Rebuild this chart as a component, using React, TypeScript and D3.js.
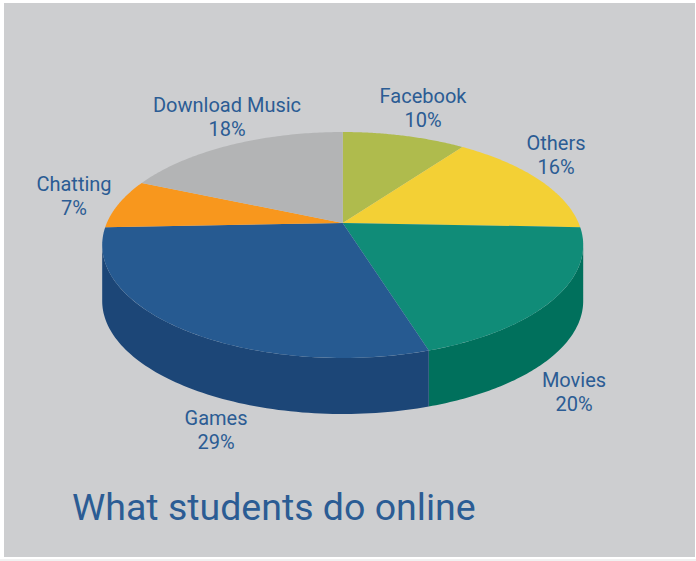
import React from "react";
import * as d3 from "d3";

const categories = ["Facebook", "Others", "Movies", "Games", "Chatting", "Download Music"];
const labelPercents = ["10%", "16%", "20%", "29%", "7%", "18%"];
const shares = [10, 15.6, 19.6, 29.2, 7.1, 18.5];
const topColors = ["#afbb4d", "#f3d035", "#108c78", "#265a91", "#f8971d", "#b3b4b5"];
const wallColors = ["none", "none", "#00705c", "#1c4677", "none", "none"];
const labelX = [423, 556, 574, 216, 74, 227];
const labelY = [103, 150, 387, 425, 191, 112];

const W = 696, H = 561;
const cx = 342.7, cy = 223, a = 235.9, b = 108.7, p = 0.1947, depth = 56;
const FONT = "Roboto, sans-serif";
const INK = "#2b5c94";

const project = (t: number): [number, number] => {
  const u = Math.sin(t), v = -Math.cos(t), w = 1 - p * v;
  return [cx + (a * u) / w, cy + (b * v) / w];
};
const silhouette = Math.acos(-p);
const line = d3.line<[number, number]>();
const pieGen = d3.pie<number>().sort(null).value((d) => d);
const samples = (t0: number, t1: number) =>
  d3.range(0, 81).map((i) => project(t0 + ((t1 - t0) * i) / 80));

export default function App() {
  const arcs = pieGen(shares);
  return (
    <svg width={W} height={H} style={{ position: "absolute", left: 0, top: 0 }}>
      <rect width={W} height={H} fill="#f1f1f1" />
      <rect x={0} y={0} width={W} height={559} fill="#ffffff" />
      <rect x={4} y={3} width={691} height={554} fill="#cdced0" />
      {arcs.map((s, i) => {
        const t0 = Math.max(s.startAngle, silhouette);
        const t1 = Math.min(s.endAngle, 2 * Math.PI - silhouette);
        if (t1 <= t0 || wallColors[i] === "none") return null;
        const top = samples(t0, t1);
        const bottom = top.map(([x, y]) => [x, y + depth] as [number, number]).reverse();
        return <path key={i} d={line([...top, ...bottom]) + "Z"} fill={wallColors[i]} />;
      })}
      {arcs.map((s, i) => (
        <path
          key={i}
          d={line([[cx, cy], ...samples(s.startAngle, s.endAngle)]) + "Z"}
          fill={topColors[i]}
        />
      ))}
      {categories.map((c, i) => (
        <text key={c} x={labelX[i]} y={labelY[i]} textAnchor="middle" fontFamily={FONT} fontSize={20} fill={INK}>
          <tspan x={labelX[i]}>{c}</tspan>
          <tspan x={labelX[i]} dy={23.5}>{labelPercents[i]}</tspan>
        </text>
      ))}
      <text x={72} y={520} fontFamily={FONT} fontSize={37.5} fill={INK}>What students do online</text>
    </svg>
  );
}
